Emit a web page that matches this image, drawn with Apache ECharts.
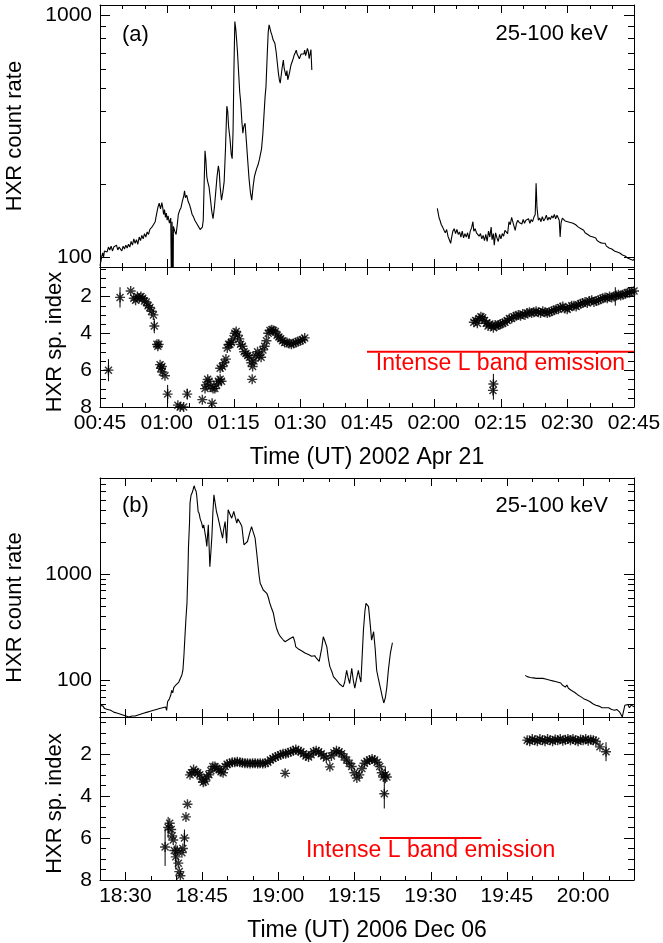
<!DOCTYPE html>
<html><head><meta charset="utf-8">
<script src="https://cdn.jsdelivr.net/npm/echarts@6/dist/echarts.min.js"></script>
<style>html,body{margin:0;padding:0;background:#fff}#c{width:663px;height:943px}</style>
</head><body><div id="c"></div>
<script>
// ---------- DATA (time in minutes since 00:00 UT) ----------
// Panel (a) 2002 Apr 21 — HXR count rate 25-100 keV
const rateA1 = [[45.0,92],[45.2,96],[45.4,101],[45.6,104],[45.8,100],[46.0,106],[46.3,108],[46.6,105],[46.9,110],[47.2,107],[47.5,111],[47.8,106],[48.1,110],[48.4,108],[48.7,112],[49.0,107],[49.3,110],[49.6,109],[49.9,106],[50.2,111],[50.5,108],[50.8,112],[51.1,109],[51.4,113],[51.7,110],[52.0,116],[52.3,112],[52.6,119],[52.9,114],[53.2,118],[53.5,113],[53.8,121],[54.1,117],[54.4,123],[54.7,119],[55.0,125],[55.3,121],[55.6,127],[55.9,124],[56.2,130],[56.5,128],[56.8,134],[57.1,132],[57.4,140],[57.7,150],[58.0,160],[58.3,167],[58.6,158],[58.9,168],[59.1,160],[59.3,150],[59.5,157],[59.7,146],[59.9,152],[60.1,142],[60.3,148],[60.6,138],[60.9,145],[61.1,60],[61.2,140],[61.4,60],[61.5,134],[61.8,128],[62.1,124],[62.4,138],[62.6,150],[62.9,156],[63.2,160],[63.5,170],[63.8,178],[64.0,188],[64.2,176],[64.5,180],[64.8,170],[65.1,165],[65.4,158],[65.7,150],[66.0,147],[66.3,142],[66.6,140],[66.9,136],[67.2,133],[67.5,130],[67.8,128],[68.0,133],[68.2,142],[68.4,200],[68.6,275],[68.8,250],[69.0,215],[69.2,205],[69.5,195],[69.8,175],[70.1,155],[70.4,144],[70.7,160],[71.0,185],[71.3,215],[71.6,238],[71.8,225],[72.0,195],[72.3,172],[72.6,185],[72.9,205],[73.2,280],[73.5,420],[73.7,400],[73.9,345],[74.2,310],[74.5,265],[74.7,255],[74.9,330],[75.1,600],[75.3,940],[75.5,880],[75.7,790],[75.9,700],[76.1,600],[76.4,480],[76.6,440],[76.9,360],[77.1,325],[77.3,345],[77.6,357],[77.9,300],[78.2,250],[78.5,210],[78.8,185],[79.1,172],[79.4,195],[79.7,215],[79.9,222],[80.2,232],[80.5,240],[80.8,252],[81.0,255],[81.3,280],[81.6,324],[81.9,400],[82.1,460],[82.3,506],[82.6,700],[82.8,850],[83.0,910],[83.2,880],[83.4,850],[83.6,830],[83.9,790],[84.1,800],[84.3,764],[84.6,700],[84.9,620],[85.1,574],[85.3,540],[85.5,523],[85.7,560],[85.9,600],[86.2,652],[86.4,600],[86.6,580],[86.8,560],[87.0,590],[87.2,540],[87.4,547],[87.6,580],[87.9,620],[88.1,611],[88.3,650],[88.6,680],[88.9,700],[89.1,716],[89.3,690],[89.5,700],[89.8,660],[90.0,652],[90.2,690],[90.4,680],[90.6,700],[90.8,690],[91.0,716],[91.2,680],[91.4,700],[91.6,728],[91.8,710],[92.0,660],[92.2,690],[92.4,720],[92.6,593]];
const rateA2 = [[120.8,159],[121.0,152],[121.2,145],[121.4,142],[121.7,136],[122.0,133],[122.3,129],[122.6,126],[122.9,130],[123.2,122],[123.5,118],[123.8,114],[124.0,120],[124.3,128],[124.6,131],[124.9,125],[125.2,130],[125.5,124],[125.8,127],[126.1,121],[126.4,128],[126.7,120],[127.0,125],[127.3,121],[127.6,126],[127.9,119],[128.2,128],[128.5,132],[128.8,140],[129.0,128],[129.3,131],[129.6,126],[129.9,127],[130.2,122],[130.5,125],[130.8,119],[131.1,123],[131.4,117],[131.7,124],[132.0,116],[132.3,128],[132.6,121],[132.9,133],[133.1,118],[133.4,125],[133.6,112],[133.9,126],[134.2,120],[134.5,116],[134.8,124],[135.1,119],[135.4,125],[135.7,122],[136.0,129],[136.3,131],[136.6,125],[136.9,140],[137.2,136],[137.5,146],[137.8,147],[138.0,135],[138.3,129],[138.6,138],[138.9,142],[139.2,139],[139.5,141],[139.8,137],[140.1,143],[140.4,138],[140.7,142],[141.0,140],[141.3,144],[141.6,138],[141.9,143],[142.2,140],[142.5,146],[142.8,150],[143.0,202],[143.2,160],[143.5,142],[143.8,145],[144.1,140],[144.4,147],[144.7,141],[145.0,144],[145.3,149],[145.6,142],[145.9,146],[146.2,143],[146.5,148],[146.8,145],[147.1,150],[147.4,144],[147.7,149],[148.0,151],[148.2,142],[148.4,121],[148.6,138],[148.9,145],[149.2,144],[149.5,141],[149.8,143],[150.1,140],[150.4,142],[150.7,139],[151.0,141],[151.3,138],[151.6,140],[151.9,136],[152.2,137],[152.5,133],[152.8,134],[153.1,131],[153.4,130],[153.7,129],[154.0,126],[154.3,127],[154.6,124],[154.9,125],[155.2,122],[155.5,123],[155.8,121],[156.1,119],[156.4,120],[156.7,117],[157.0,118],[157.3,115],[157.6,116],[157.9,114],[158.2,113],[158.5,114],[158.8,111],[159.1,112],[159.4,109],[159.7,110],[160.0,108],[160.3,109],[160.6,106],[160.9,107],[161.2,105],[161.5,106],[161.8,104],[162.1,105],[162.4,102],[162.7,103],[163.0,101],[163.3,102],[163.6,99],[163.9,100],[164.2,98],[164.5,99],[164.8,97],[165.0,98]];
// Panel (a) HXR spectral index
const indexA = [[46.9,6.0],[49.5,2.05],[51.9,1.7],[52.6,2.1],[53.0,2.2],[53.4,2.0],[53.8,2.1],[54.2,2.0],[54.6,2.1],[55.0,2.25],[55.4,2.3],[55.8,2.5],[56.2,2.6],[56.6,2.8],[57.0,3.0],[57.2,3.6],[57.8,4.6],[58.0,4.7],[58.2,4.6],[58.5,5.7],[58.7,5.9],[58.9,5.8],[59.0,6.1],[59.6,6.3],[60.2,7.3],[62.5,7.9],[63.0,8.0],[63.4,8.1],[63.8,8.0],[64.0,8.1],[64.4,8.2],[64.6,7.3],[68.0,7.6],[68.6,7.0],[68.8,6.8],[69.2,6.5],[69.5,6.6],[69.8,6.9],[70.2,7.8],[70.4,7.0],[70.8,7.0],[71.2,6.8],[71.6,6.6],[72.0,6.5],[72.3,6.6],[72.0,5.9],[72.5,5.8],[72.9,5.6],[73.3,5.4],[73.6,4.8],[73.9,4.6],[74.2,4.6],[74.5,4.5],[74.9,4.3],[75.3,4.0],[75.6,3.9],[75.9,4.1],[76.3,4.3],[76.6,4.6],[77.0,4.7],[77.4,5.0],[77.8,5.1],[78.2,5.2],[78.6,5.3],[79.0,5.6],[79.3,5.8],[79.2,6.5],[79.6,5.5],[80.0,5.2],[80.4,5.0],[80.8,5.2],[81.2,5.3],[81.6,4.9],[82.0,4.7],[82.4,4.4],[82.8,4.0],[83.2,3.85],[83.6,3.8],[84.0,3.85],[84.4,3.9],[84.8,4.1],[85.2,4.2],[85.6,4.3],[86.0,4.4],[86.5,4.5],[87.0,4.5],[87.5,4.55],[88.0,4.6],[88.5,4.55],[89.0,4.5],[89.5,4.45],[90.0,4.4],[90.5,4.35],[91.0,4.25],[129.0,3.4],[129.4,3.3],[129.8,3.45],[130.2,3.2],[130.6,3.1],[131.0,3.15],[131.4,3.3],[131.8,3.45],[132.2,3.6],[132.6,3.5],[133.0,3.6],[133.4,3.7],[133.8,3.55],[134.2,3.6],[134.6,3.55],[135.0,3.5],[135.5,3.45],[136.0,3.4],[136.5,3.3],[137.0,3.2],[137.5,3.2],[138.0,3.1],[138.5,3.05],[139.0,3.0],[139.5,3.05],[140.0,2.95],[140.5,3.0],[141.0,2.9],[141.5,2.85],[142.0,2.9],[142.5,2.85],[143.0,2.8],[143.5,2.85],[144.0,2.9],[144.5,2.8],[145.0,2.85],[145.5,2.9],[146.0,2.85],[146.5,2.8],[147.0,2.75],[147.5,2.7],[148.0,2.7],[148.5,2.6],[149.0,2.55],[149.5,2.65],[150.0,2.7],[150.5,2.6],[151.0,2.5],[151.5,2.5],[152.0,2.55],[152.5,2.45],[153.0,2.4],[153.5,2.35],[154.0,2.3],[154.5,2.35],[155.0,2.25],[155.5,2.2],[156.0,2.3],[156.5,2.25],[157.0,2.2],[157.5,2.15],[158.0,2.1],[158.5,2.05],[159.0,2.1],[159.5,2.0],[160.0,2.05],[160.5,2.0],[161.0,1.95],[161.5,1.9],[162.0,1.95],[162.5,1.9],[163.0,1.85],[163.5,1.8],[164.0,1.8],[164.5,1.75],[165.0,1.7],[133.4,6.75],[133.3,7.1]];
// error bars [time, index, half-length]
const errA = [[46.9,6.0,0.6],[49.5,2.05,0.55],[57.2,3.6,0.4],[60.2,7.3,0.5],[64.6,7.3,0.3],[133.4,6.9,0.7],[160.8,2.0,0.5]];
// Intense L band emission interval (a)
const bandA = [[105,5],[165,5]];

// Panel (b) 2006 Dec 06 — HXR count rate 25-100 keV
const rateB1 = [[1105.0,58],[1105.3,56],[1105.6,57],[1105.9,54],[1106.2,55],[1106.5,53],[1106.8,54],[1107.1,52],[1107.4,52],[1107.7,50],[1108.0,51],[1108.3,49],[1108.6,50],[1108.9,48],[1109.2,49],[1109.5,47],[1109.8,48],[1110.1,46],[1110.4,47],[1110.7,45],[1111.0,44],[1111.3,46],[1111.6,47],[1111.9,46],[1112.2,48],[1112.5,47],[1112.8,49],[1113.1,48],[1113.4,50],[1113.7,49],[1114.0,51],[1114.3,50],[1114.6,52],[1114.9,51],[1115.2,53],[1115.5,52],[1115.8,54],[1116.1,53],[1116.4,55],[1116.7,54],[1117.0,56],[1117.3,55],[1117.6,57],[1117.9,56],[1118.1,52],[1118.3,63],[1118.6,66],[1118.9,72],[1119.1,80],[1119.3,76],[1119.5,85],[1119.7,83],[1119.9,90],[1120.2,92],[1120.5,96],[1120.8,100],[1121.1,112],[1121.3,124],[1121.5,170],[1121.7,256],[1121.9,380],[1122.1,529],[1122.3,1100],[1122.4,1811],[1122.6,3000],[1122.7,4642],[1122.9,5500],[1123.1,5770],[1123.3,6200],[1123.5,6760],[1123.7,6300],[1123.9,6000],[1124.0,5560],[1124.2,5600],[1124.3,3870],[1124.5,3700],[1124.7,3300],[1125.0,3010],[1125.2,2700],[1125.4,2900],[1125.6,2510],[1125.8,2200],[1126.0,1811],[1126.3,2900],[1126.6,1170],[1126.8,1600],[1127.0,2250],[1127.2,3800],[1127.4,5560],[1127.6,4800],[1127.9,3870],[1128.2,3400],[1128.6,2790],[1128.9,2400],[1129.1,2170],[1129.3,2600],[1129.6,3110],[1129.9,1946],[1130.2,4020],[1130.5,3700],[1130.9,3350],[1131.1,3600],[1131.3,3870],[1131.6,3400],[1131.9,3010],[1132.1,3300],[1132.3,3230],[1132.6,3000],[1132.9,2790],[1133.1,2300],[1133.3,1880],[1133.6,1900],[1134.0,2020],[1134.4,2400],[1134.8,2790],[1135.1,2500],[1135.5,2170],[1135.8,1600],[1136.1,1170],[1136.3,950],[1136.5,817],[1136.8,760],[1137.1,706],[1137.4,690],[1137.8,657],[1138.1,600],[1138.4,529],[1138.7,480],[1139.1,426],[1139.4,355],[1139.7,310],[1140.1,275],[1140.4,260],[1140.7,250],[1141.0,240],[1141.4,230],[1141.7,235],[1142.0,240],[1142.4,247],[1142.7,250],[1143.0,256],[1143.3,230],[1143.5,206],[1143.8,200],[1144.1,195],[1144.4,190],[1144.7,188],[1145.0,185],[1145.3,180],[1145.6,178],[1146.0,174],[1146.3,172],[1146.6,168],[1146.9,165],[1147.2,170],[1147.6,160],[1147.9,158],[1148.1,150],[1148.3,144],[1148.6,200],[1148.9,256],[1149.2,235],[1149.6,206],[1149.9,160],[1150.2,134],[1150.6,120],[1150.9,108],[1151.2,104],[1151.5,100],[1151.8,96],[1152.1,92],[1152.4,90],[1152.8,86.5],[1153.1,95],[1153.5,124],[1153.8,105],[1154.1,93],[1154.3,110],[1154.5,129],[1154.8,100],[1155.1,84],[1155.4,100],[1155.8,124],[1156.0,110],[1156.3,96],[1156.5,150],[1156.8,297],[1157.1,450],[1157.3,529],[1157.5,520],[1157.8,492],[1158.1,350],[1158.4,238],[1158.6,260],[1158.8,286],[1159.1,200],[1159.4,124],[1159.7,105],[1160.1,86],[1160.5,70],[1160.8,61],[1161.1,68],[1161.4,86],[1161.7,124],[1162.1,180],[1162.5,225]];
const rateB2 = [[1188.6,111],[1189.0,108],[1189.3,110],[1189.6,106],[1189.9,109],[1190.2,105],[1190.5,107],[1190.8,104],[1191.1,106],[1191.5,104],[1191.8,102],[1192.1,104],[1192.4,100],[1192.8,102],[1193.1,98],[1193.5,100],[1193.8,96],[1194.2,98],[1194.5,95],[1194.9,96],[1195.2,93],[1195.6,94],[1195.9,90],[1196.2,92],[1196.5,86],[1196.8,90],[1197.1,84],[1197.4,86],[1197.7,80],[1198.0,82],[1198.3,77],[1198.6,78],[1198.9,73],[1199.2,74],[1199.5,70],[1199.8,71],[1200.1,67],[1200.4,68],[1200.7,65],[1201.0,66],[1201.3,63],[1201.6,63],[1201.9,60],[1202.2,61],[1202.5,58],[1202.8,59],[1203.1,57],[1203.4,57],[1203.7,55],[1204.0,56],[1204.3,55],[1204.6,54],[1205.0,55],[1205.3,54],[1205.6,53],[1205.9,54],[1206.2,52],[1206.6,53],[1206.9,51],[1207.2,50],[1207.5,47],[1207.7,45],[1207.9,50],[1208.2,58],[1208.5,56],[1208.8,59],[1209.1,55],[1209.4,58],[1209.8,57],[1210.0,56]];
// Panel (b) HXR spectral index
const indexB = [[1117.8,6.43],[1118.4,5.5],[1118.7,5.3],[1119.0,5.6],[1119.2,5.9],[1119.4,6.1],[1119.6,6.6],[1119.9,6.9],[1120.2,6.6],[1120.4,7.2],[1120.6,7.6],[1120.8,7.8],[1121.1,6.7],[1121.3,6.5],[1121.6,6.0],[1121.9,5.0],[1122.2,4.4],[1122.7,3.0],[1123.0,2.9],[1123.4,2.75],[1123.8,2.85],[1124.2,2.9],[1124.6,3.0],[1125.0,3.2],[1125.3,3.35],[1125.7,3.3],[1126.0,3.1],[1126.4,3.0],[1126.8,2.8],[1127.2,2.6],[1127.6,2.6],[1128.0,2.7],[1128.4,2.75],[1128.8,2.85],[1129.2,2.9],[1129.6,2.6],[1130.0,2.5],[1130.5,2.45],[1131.0,2.4],[1131.5,2.4],[1132.0,2.38],[1132.5,2.4],[1133.0,2.42],[1133.5,2.45],[1134.0,2.45],[1134.5,2.46],[1135.0,2.45],[1135.5,2.45],[1136.0,2.46],[1136.5,2.45],[1137.0,2.46],[1137.5,2.45],[1138.0,2.4],[1138.5,2.3],[1139.0,2.22],[1139.5,2.15],[1140.0,2.1],[1140.5,2.05],[1141.0,2.0],[1141.4,2.93],[1141.5,2.0],[1142.0,1.95],[1142.5,1.9],[1143.0,1.85],[1143.5,1.8],[1144.0,1.85],[1144.5,1.9],[1145.0,2.0],[1145.5,2.1],[1146.0,2.15],[1146.5,2.05],[1147.0,1.9],[1147.5,1.85],[1148.0,1.9],[1148.5,2.0],[1149.0,2.1],[1149.5,2.2],[1150.2,2.62],[1150.5,2.1],[1151.0,1.95],[1151.5,1.85],[1152.0,1.9],[1152.5,2.0],[1153.0,2.15],[1153.5,2.3],[1154.0,2.45],[1154.5,2.6],[1155.0,2.9],[1155.5,3.15],[1156.0,3.0],[1156.5,2.7],[1157.0,2.45],[1157.5,2.35],[1158.0,2.3],[1158.5,2.25],[1159.0,2.3],[1159.5,2.4],[1160.0,2.6],[1160.4,2.9],[1160.7,3.1],[1161.1,3.0],[1160.9,3.9],[1161.4,3.1],[1189.0,1.35],[1189.5,1.4],[1190.0,1.3],[1190.5,1.35],[1191.0,1.4],[1191.5,1.3],[1192.0,1.35],[1192.5,1.4],[1193.0,1.3],[1193.5,1.35],[1194.0,1.4],[1194.5,1.32],[1195.0,1.35],[1195.5,1.3],[1196.0,1.38],[1196.5,1.33],[1197.0,1.3],[1197.5,1.36],[1198.0,1.3],[1198.5,1.35],[1199.0,1.4],[1199.5,1.32],[1200.0,1.36],[1200.5,1.3],[1201.0,1.38],[1201.5,1.33],[1202.0,1.35],[1202.5,1.4],[1203.3,1.67],[1204.5,1.9]];
const errB = [[1117.8,6.43,0.9],[1118.4,5.5,0.5],[1119.9,6.9,0.6],[1121.6,6.0,0.4],[1160.9,3.9,0.7],[1161.1,3.0,0.4],[1204.5,1.9,0.45]];
const bandB = [[1160,6],[1180,6]];

// ---------- TICKS ----------
const xMajorA = [45,60,75,90,105,120,135,150,165];
const xMinorA = [50,55,65,70,80,85,95,100,110,115,125,130,140,145,155,160];
const xMajorB = [1110,1125,1140,1155,1170,1185,1200];
const xMinorB = [1115,1120,1130,1135,1145,1150,1160,1165,1175,1180,1190,1195,1205];
const rateMajor = [100,1000];
const rateMinorA = [200,300,400,500,600,700,800,900];
const rateMinorB = [50,60,70,80,90,200,300,400,500,600,700,800,900,2000,3000,4000,5000,6000,7000];
const idxMajor = [2,4,6,8];
const idxMinor = [0.5,1,1.5,2.5,3,3.5,4.5,5,5.5,6.5,7,7.5];

const FONT = "'Liberation Sans', Arial, Helvetica, sans-serif";
function hhmm(m){ m=Math.round(m); const h=Math.floor(m/60)%24, mm=m%60; return (h<10?'0':'')+h+':'+(mm<10?'0':'')+mm; }

const grids = [
  {left:100, top:5,   width:534, height:262, outerBoundsMode:'none'},
  {left:100, top:267, width:534, height:140, outerBoundsMode:'none'},
  {left:100, top:478, width:534, height:239, outerBoundsMode:'none'},
  {left:100, top:717, width:534, height:163, outerBoundsMode:'none'}
];
const line = {show:true, onZero:false, lineStyle:{color:'#000', width:1}};
const xAxes=[], yAxes=[];
function addX(g, min, max, labels, name){
  const base = {type:'value', gridIndex:g, min:min, max:max, splitLine:{show:false}, axisTick:{show:false}, axisLine:line};
  const idx = xAxes.length;
  const bottom = Object.assign({}, base, {position:'bottom', axisLabel:{show:false}});
  if (labels) Object.assign(bottom, {
      axisLabel:{show:true, customValues:labels, formatter:hhmm, fontSize:21, color:'#000', fontFamily:FONT, margin:6},
      name:name, nameLocation:'middle', nameGap:39, nameTextStyle:{fontSize:23, color:'#000', fontFamily:FONT}});
  xAxes.push(bottom);
  xAxes.push(Object.assign({}, base, {position:'top', axisLabel:{show:false}}));
  return idx;
}
function addY(g, type, min, max, inverse, labels, name, gap, pad){
  const base = {type:type, gridIndex:g, min:min, max:max, inverse:inverse, splitLine:{show:false}, axisTick:{show:false}, axisLine:line};
  if (type==='log') base.logBase = 10;
  const idx = yAxes.length;
  yAxes.push(Object.assign({}, base, {position:'left',
    axisLabel:{show:true, customValues:labels, formatter:function(v){return String(Math.round(v*100)/100);}, fontSize:21, color:'#000', fontFamily:FONT, margin:8},
    name:name, nameLocation:'middle', nameGap:gap, nameRotate:90,
    nameTextStyle:{fontSize:22, color:'#000', fontFamily:FONT, padding:pad}}));
  yAxes.push(Object.assign({}, base, {position:'right', axisLabel:{show:false}}));
  return idx;
}
const x0 = addX(0, 45, 165, null);
const x1 = addX(1, 45, 165, xMajorA, 'Time (UT) 2002 Apr 21');
const x2 = addX(2, 1105, 1210, null);
const x3 = addX(3, 1105, 1210, xMajorB, 'Time (UT) 2006 Dec 06');
const y0 = addY(0, 'log', 91, 1100, false, rateMajor, 'HXR count rate', 74, [0,0,0,0]);
const y1 = addY(1, 'value', 0.4, 8, true, idxMajor, 'HXR sp. index', 34, [0,10,0,0]);
const y2 = addY(2, 'log', 45, 8000, false, rateMajor, 'HXR count rate', 74, [0,20,0,0]);
const y3 = addY(3, 'value', 0.25, 8, true, idxMajor, 'HXR sp. index', 34, [0,10,0,0]);

// inward tick marks on all four frame sides, positioned through the axes' scales
const px = v => Math.round(v) + 0.5;
function xTicks(xi, yi, vals, len, yRef){
  return {type:'custom', xAxisIndex:xi, yAxisIndex:yi, silent:true, clip:false, z:10, progressive:0,
    data:vals.map(v => [v, yRef]), encode:{x:0, y:1},
    renderItem:function(params, api){
      const cs = params.coordSys, x = px(api.coord([api.value(0), api.value(1)])[0]);
      const b = cs.y + cs.height;
      return {type:'group', children:[
        {type:'line', shape:{x1:x, y1:b, x2:x, y2:b-len}, style:{stroke:'#000', lineWidth:1}},
        {type:'line', shape:{x1:x, y1:cs.y, x2:x, y2:cs.y+len}, style:{stroke:'#000', lineWidth:1}}]};
    }};
}
function yTicks(xi, yi, vals, len, xRef){
  return {type:'custom', xAxisIndex:xi, yAxisIndex:yi, silent:true, clip:false, z:10, progressive:0,
    data:vals.map(v => [xRef, v]), encode:{x:0, y:1},
    renderItem:function(params, api){
      const cs = params.coordSys, y = px(api.coord([api.value(0), api.value(1)])[1]);
      const r = cs.x + cs.width;
      return {type:'group', children:[
        {type:'line', shape:{x1:cs.x, y1:y, x2:cs.x+len, y2:y}, style:{stroke:'#000', lineWidth:1}},
        {type:'line', shape:{x1:r, y1:y, x2:r-len, y2:y}, style:{stroke:'#000', lineWidth:1}}]};
    }};
}

const STAR = 'path://M10,0L10,20M0,10L20,10M3,3L17,17M3,17L17,3';
function rateSeries(data, xi, yi){
  return {type:'line', xAxisIndex:xi, yAxisIndex:yi, data:data, symbol:'none', clip:true, progressive:0,
    lineStyle:{color:'#000', width:1.1}, silent:true};
}
function idxSeries(data, xi, yi){
  return {type:'scatter', xAxisIndex:xi, yAxisIndex:yi, data:data, symbol:STAR, symbolSize:10, clip:true, progressive:0,
    itemStyle:{color:'rgba(0,0,0,0)', borderColor:'#000', borderWidth:1.4}, silent:true};
}
function errSeries(data, xi, yi){
  return {type:'custom', xAxisIndex:xi, yAxisIndex:yi, clip:true, silent:true, progressive:0,
    data:data.map(e => [e[0], e[1]-e[2], e[1]+e[2]]), encode:{x:0, y:[1,2]},
    renderItem:function(params, api){
      const a = api.coord([api.value(0), api.value(1)]);
      const b = api.coord([api.value(0), api.value(2)]);
      return {type:'line', shape:{x1:a[0], y1:a[1], x2:b[0], y2:b[1]}, style:{stroke:'#000', lineWidth:1}};
    }};
}
function bandSeries(data, xi, yi){
  return {type:'line', xAxisIndex:xi, yAxisIndex:yi, data:data, symbol:'none', silent:true, progressive:0,
    lineStyle:{color:'#ff0000', width:2}};
}

const chart = echarts.init(document.getElementById('c'), null, {renderer:'canvas'});
chart.setOption({
  animation:false,
  backgroundColor:'#fff',
  grid:grids,
  xAxis:xAxes,
  yAxis:yAxes,
  series:[
    xTicks(x0, y0, xMajorA, 8, 200), xTicks(x0, y0, xMinorA, 4, 200),
    xTicks(x1, y1, xMajorA, 8, 4),   xTicks(x1, y1, xMinorA, 4, 4),
    xTicks(x2, y2, xMajorB, 8, 200), xTicks(x2, y2, xMinorB, 4, 200),
    xTicks(x3, y3, xMajorB, 8, 4),   xTicks(x3, y3, xMinorB, 4, 4),
    yTicks(x0, y0, rateMajor, 10, 100), yTicks(x0, y0, rateMinorA, 6, 100),
    yTicks(x1, y1, idxMajor, 10, 100),  yTicks(x1, y1, idxMinor, 6, 100),
    yTicks(x2, y2, rateMajor, 10, 1150), yTicks(x2, y2, rateMinorB, 6, 1150),
    yTicks(x3, y3, idxMajor, 10, 1150),  yTicks(x3, y3, idxMinor, 6, 1150),
    rateSeries(rateA1, x0, y0), rateSeries(rateA2, x0, y0),
    errSeries(errA, x1, y1), idxSeries(indexA, x1, y1), bandSeries(bandA, x1, y1),
    rateSeries(rateB1, x2, y2), rateSeries(rateB2, x2, y2),
    errSeries(errB, x3, y3), idxSeries(indexB, x3, y3), bandSeries(bandB, x3, y3)
  ]
});

function mid(b){ return [(b[0][0]+b[1][0])/2, b[0][1]]; }
const pA = chart.convertToPixel({xAxisIndex:x1, yAxisIndex:y1}, mid(bandA));
const pB = chart.convertToPixel({xAxisIndex:x3, yAxisIndex:y3}, mid(bandB));
const txt = (x, y, s, align, color, size) => ({type:'text', x:x, y:y, silent:true,
  style:{text:s, fill:color||'#000', font:(size||22)+'px ' + FONT, textAlign:align||'left', textVerticalAlign:'middle'}});
chart.setOption({graphic:[
  txt(122, 35, '(a)'),
  txt(608, 34, '25-100 keV', 'right'),
  txt(122, 506, '(b)'),
  txt(608, 506, '25-100 keV', 'right'),
  txt(pA[0], pA[1] + 12, 'Intense L band emission', 'center', '#ff0000', 23),
  txt(pB[0], pB[1] + 13, 'Intense L band emission', 'center', '#ff0000', 23)
]});
</script></body></html>
